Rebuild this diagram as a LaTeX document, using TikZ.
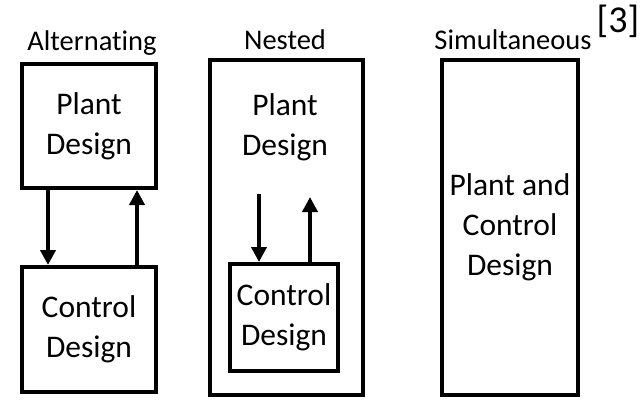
\documentclass[tikz,border=0pt]{standalone}
\usepackage{fontspec}
\setmainfont{Carlito}[Ligatures=NoCommon]
\usetikzlibrary{arrows.meta}
\begin{document}
\begin{tikzpicture}[x=1pt,y=-1pt,
  box/.style={draw,line width=4pt,rectangle,inner sep=0pt,align=center,font=\fontsize{31.5}{40}\selectfont},
  txt/.style={align=center,inner sep=0pt,font=\fontsize{31.5}{40}\selectfont},
  lbl/.style={inner sep=0pt,font=\fontsize{28.5}{34}\selectfont},
  arr/.style={line width=4pt,-{Triangle[width=15pt,length=15pt]}}]
\useasboundingbox (0,0) rectangle (644,401);
% Alternating
\node[lbl] (la) at (92,43) {Alternating};
\node[box,minimum width=134pt,minimum height=124pt] (pA) at (89,126) {Plant\\Design};
\node[box,minimum width=134pt,minimum height=125pt] (cA) at (89,329.5) {Control\\Design};
\coordinate (ad) at (48,0);
\coordinate (au) at (137,0);
\draw[arr] (pA.south -| ad) -- (cA.north -| ad);
\draw[arr] (cA.north -| au) -- (pA.south -| au);
% Nested
\node[lbl] (ln) at (285,40) {Nested};
\node[box,minimum width=153pt,minimum height=335pt] (oN) at (286.5,227.5) {};
\node[txt] (pN) at (285,127) {Plant\\Design};
\node[box,minimum width=108pt,minimum height=107pt] (cN) at (284,317.5) {Control\\Design};
\coordinate (nd) at (259,194);
\coordinate (nu) at (310,197);
\draw[arr] (nd) -- (cN.north -| nd);
\draw[arr] (cN.north -| nu) -- (nu);
% Simultaneous
\node[lbl] (ls) at (513,40) {Simultaneous};
\node[lbl,font=\fontsize{38}{44}\selectfont] (ref) at (618,21) {[3]};
\node[box,minimum width=136pt,minimum height=335pt] (sS) at (510,227.5) {Plant and\\Control\\Design};
\end{tikzpicture}
\end{document}
